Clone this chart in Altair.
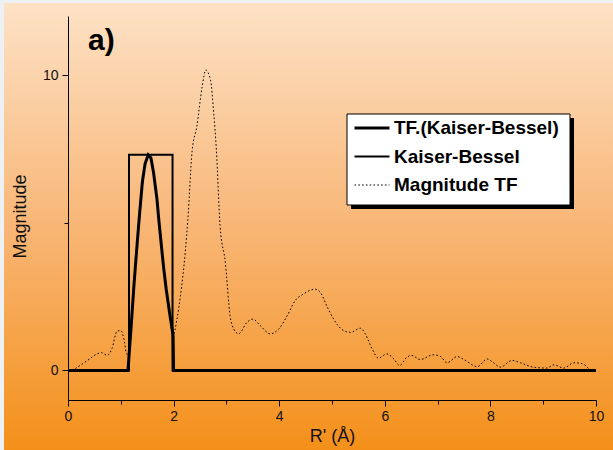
import altair as alt
import pandas as pd

# ---------------- data ----------------
SERIES = ["TF.(Kaiser-Bessel)", "Kaiser-Bessel", "Magnitude TF"]

R_TF_KB = [0, 1.136, 1.20, 1.25, 1.31, 1.36, 1.41, 1.46, 1.52, 1.57, 1.62, 1.685,
           1.72, 1.77, 1.81, 1.86, 1.92, 1.99, 2.0, 10]
M_TF_KB = [0, 0, 1.6, 2.9, 4.3, 5.4, 6.4, 7.0, 7.3, 7.2, 6.7, 5.8,
           5.1, 4.2, 3.5, 2.75, 2.0, 1.18, 0, 0]

R_KB = [0, 1.155, 1.155, 1.98, 1.98, 10]
M_KB = [0, 0, 7.3, 7.3, 0, 0]

R_MAG = [0, 0.12, 0.23, 0.40, 0.55, 0.64, 0.74, 0.83, 0.93, 1.00, 1.07, 1.10, 1.15,
         1.20, 1.25, 1.31, 1.36, 1.41, 1.46, 1.52, 1.57, 1.62, 1.685, 1.72, 1.77,
         1.81, 1.86, 1.92, 1.99, 2.06, 2.13, 2.22, 2.27, 2.35, 2.44, 2.54, 2.61,
         2.70, 2.76, 2.81, 2.88, 2.98, 3.07, 3.14, 3.23, 3.39, 3.50, 3.64, 3.83,
         3.99, 4.15, 4.30, 4.46, 4.68, 4.78, 4.90, 5.03, 5.22, 5.35, 5.54, 5.63,
         5.76, 5.88, 6.04, 6.17, 6.28, 6.42, 6.51, 6.67, 6.92, 7.05, 7.18, 7.37,
         7.50, 7.75, 7.94, 8.03, 8.19, 8.41, 8.57, 8.82, 9.07, 9.20, 9.39, 9.58,
         9.74, 9.86]
M_MAG = [0, 0.05, 0.17, 0.38, 0.56, 0.60, 0.51, 0.73, 1.33, 1.35, 0.96, 0.62, 0.50,
         1.6, 2.9, 4.3, 5.4, 6.4, 7.0, 7.3, 7.2, 6.7, 5.8, 5.1, 4.2,
         3.5, 2.75, 2.0, 1.18, 1.7, 2.53, 3.99, 5.11, 7.42, 8.26, 9.6, 10.17,
         9.83, 8.71, 7.47, 4.9, 3.65, 1.85, 1.40, 1.24, 1.63, 1.74, 1.52, 1.24,
         1.40, 1.85, 2.36, 2.59, 2.75, 2.64, 2.19, 1.74, 1.35, 1.29, 1.43, 1.24,
         0.73, 0.42, 0.56, 0.39, 0.17, 0.45, 0.51, 0.37, 0.53, 0.48, 0.26, 0.47,
         0.37, 0.13, 0.39, 0.30, 0.11, 0.34, 0.26, 0.11, 0.08, 0.19, 0.08, 0.26,
         0.23, 0.06]

X_TICKS = list(range(0, 11))
Y_TICKS = [0, 5, 10]

# ---------------- tables ----------------
def frame(rs, ms, name):
    return pd.DataFrame({"R": rs, "M": ms, "series": name, "i": list(range(len(rs)))})

df = pd.concat([
    frame(R_TF_KB, M_TF_KB, SERIES[0]),
    frame(R_KB, M_KB, SERIES[1]),
    frame(R_MAG, M_MAG, SERIES[2]),
], ignore_index=True)

FONT = "Liberation Sans"

legend = alt.Legend(
    title=None, orient="none", legendX=279, legendY=87, padding=6,
    labelFont=FONT, labelFontSize=19, labelFontWeight="bold", labelColor="black",
    labelLimit=400, labelOffset=3, symbolType="stroke", symbolSize=1225,
    symbolStrokeColor="black", rowPadding=-5,
)

enc = dict(
    x=alt.X("R:Q", scale=alt.Scale(domain=[0, 10], nice=False),
            axis=alt.Axis(values=X_TICKS, title="R' (Å)", zindex=2,
                          labelExpr="datum.value % 2 == 0 ? datum.label : ''",
                          tickSize={"condition": {"test": "datum.value % 2 === 0", "value": 6},
                                    "value": 4},
                          labelPadding=3, titlePadding=4)),
    y=alt.Y("M:Q", scale=alt.Scale(domain=[-1, 12], nice=False, zero=False),
            axis=alt.Axis(values=Y_TICKS, title="Magnitude", zindex=2,
                          labelExpr="datum.value == 5 ? '' : datum.label",
                          tickSize={"condition": {"test": "datum.value === 5", "value": 4},
                                    "value": 6},
                          labelPadding=4, titlePadding=13, titleY=200)),
    order=alt.Order("i:Q"),
    strokeWidth=alt.StrokeWidth("series:N",
                                scale=alt.Scale(domain=SERIES, range=[3.0, 1.0, 1.5]),
                                legend=legend),
    strokeDash=alt.StrokeDash("series:N",
                              scale=alt.Scale(domain=SERIES, range=[[1, 0], [1, 0], [1.6, 2.2]]),
                              legend=legend),
)

base = alt.Chart(df)
line_kb = base.transform_filter(alt.datum.series == SERIES[1]).mark_line(
    color="black", interpolate="linear").encode(**enc)
line_mag = base.transform_filter(alt.datum.series == SERIES[2]).mark_line(
    color="black", interpolate="monotone").encode(**enc)
line_tf = base.transform_filter(alt.datum.series == SERIES[0]).mark_line(
    color="black", interpolate="linear").encode(**enc)

one = pd.DataFrame({"k": [0]})
grad = alt.Gradient(
    gradient="linear",
    stops=[alt.GradientStop(color="#fde2c6", offset=0),
           alt.GradientStop(color="#f8b676", offset=0.5),
           alt.GradientStop(color="#f4901a", offset=1)],
    x1=0, x2=0, y1=0, y2=1,
)
bg = alt.Chart(one).mark_rect(fill=grad, strokeWidth=0).encode(
    x=alt.value(-64), x2=alt.value(545), y=alt.value(-13), y2=alt.value(434))
shadow = alt.Chart(one).mark_rect(fill="black", strokeWidth=0).encode(
    x=alt.value(283), x2=alt.value(506), y=alt.value(102), y2=alt.value(193))
box = alt.Chart(one).mark_rect(fill="white", stroke="black", strokeWidth=1).encode(
    x=alt.value(279), x2=alt.value(502), y=alt.value(98), y2=alt.value(189))
label = alt.Chart(one).mark_text(
    align="left", baseline="alphabetic", font=FONT, fontWeight="bold", fontSize=30,
    color="black").encode(x=alt.value(20), y=alt.value(34), text=alt.value("a)"))

chart = alt.layer(bg, shadow, box, line_kb, line_mag, line_tf, label).properties(
    width=528, height=384,
    autosize=alt.AutoSizeParams(type="none"),
    padding={"left": 68, "top": 16, "right": 17, "bottom": 50},
    background="#eef1f4",
).configure_view(stroke=None).configure_axis(
    grid=False, domainColor="black", tickColor="black", domainWidth=1, tickWidth=1,
    labelFont=FONT, labelFontSize=14, labelColor="#111",
    titleFont=FONT, titleFontSize=18, titleFontWeight="normal", titleColor="#111",
    labelFlush=False, labelOverlap=False,
)

chart.save("out.html", embed_options={"renderer": "svg", "actions": False})
